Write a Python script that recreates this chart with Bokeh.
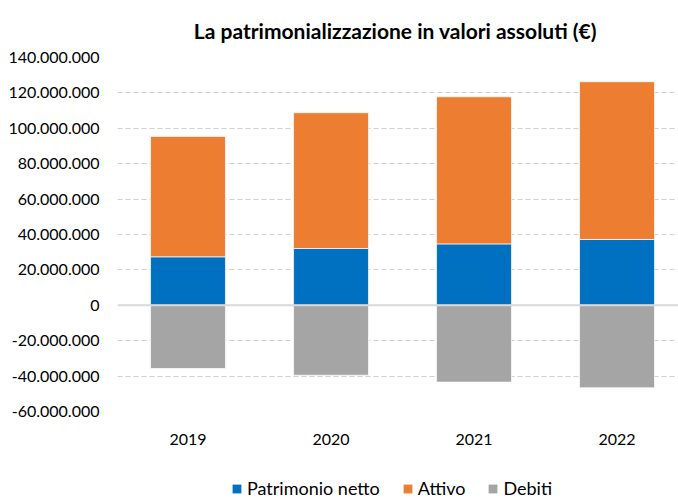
from bokeh.plotting import figure
from bokeh.layouts import column
from bokeh.models import Range1d, FixedTicker, Span, Legend, LegendItem, ColumnDataSource
from bokeh.embed import file_html
from bokeh.resources import INLINE

years = ["2019", "2020", "2021", "2022"]
patrimonio_netto = [27.4e6, 32.1e6, 34.7e6, 37.2e6]
attivo = [68.0e6, 76.7e6, 83.1e6, 89.1e6]
debiti = [-35.7e6, -39.5e6, -43.4e6, -46.6e6]
y_ticks = [-60e6, -40e6, -20e6, 0, 20e6, 40e6, 60e6, 80e6, 100e6, 120e6, 140e6]
y_tick_labels = ["-60.000.000", "-40.000.000", "-20.000.000", "0", "20.000.000", "40.000.000",
                 "60.000.000", "80.000.000", "100.000.000", "120.000.000", "140.000.000"]
series_names = ["Patrimonio netto", "Attivo", "Debiti"]
series_colors = ["#0070C0", "#ED7D31", "#A5A5A5"]

FONT = "Lato"
xs = list(range(len(years)))
src = ColumnDataSource(dict(
    x=xs,
    pn=patrimonio_netto,
    att_top=[a + b for a, b in zip(patrimonio_netto, attivo)],
    deb=debiti,
    zero=[0] * len(years),
))

p = figure(width=678, height=465, output_backend="svg", toolbar_location=None,
           x_range=Range1d(-0.493, 3.43), y_range=Range1d(-60e6, 140e6),
           min_border_left=117, min_border_right=0, min_border_top=56, min_border_bottom=54)

p.title.text = "La patrimonializzazione  in valori assoluti (€)"
p.title.text_font = FONT
p.title.text_font_size = "21px"
p.title.text_font_style = "bold"
p.title.align = "center"
p.title.text_color = "#000000"
p.title.standoff = 30

bw = 0.524
r1 = p.vbar(x="x", bottom="zero", top="pn", width=bw, source=src, fill_color=series_colors[0],
            line_color="white", line_width=0.7)
r2 = p.vbar(x="x", bottom="pn", top="att_top", width=bw, source=src, fill_color=series_colors[1],
            line_color="white", line_width=0.7)
r3 = p.vbar(x="x", bottom="deb", top="zero", width=bw, source=src, fill_color=series_colors[2],
            line_color="white", line_width=0.7)

p.add_layout(Span(location=0, dimension="width", line_color="#d9d9d9", line_width=2, level="overlay"))

p.xgrid.visible = False
p.ygrid.ticker = FixedTicker(ticks=[t for t in y_ticks if t != 0])
p.ygrid.grid_line_color = "#d0d0d0"
p.ygrid.grid_line_dash = "5 3"
p.ygrid.grid_line_width = 1

p.yaxis.ticker = FixedTicker(ticks=y_ticks)
p.yaxis.major_label_overrides = {t: l for t, l in zip(y_ticks, y_tick_labels)}
p.xaxis.ticker = FixedTicker(ticks=xs)
p.xaxis.major_label_overrides = {i: y for i, y in zip(xs, years)}
for ax in (p.xaxis, p.yaxis):
    ax.axis_line_color = None
    ax.major_tick_line_color = None
    ax.minor_tick_line_color = None
    ax.major_label_text_font = FONT
    ax.major_label_text_font_size = "16px"
    ax.major_label_text_color = "#000000"
p.yaxis.major_label_standoff = 12
p.xaxis.major_label_standoff = 16
p.outline_line_color = None

# legend strip
lg = figure(width=678, height=34, output_backend="svg", toolbar_location=None,
            x_range=Range1d(0, 1), y_range=Range1d(0, 1),
            min_border_left=117, min_border_right=0, min_border_top=0, min_border_bottom=0)
lg.axis.visible = False
lg.grid.visible = False
lg.outline_line_color = None
items = []
for name, col in zip(series_names, series_colors):
    rr = lg.vbar(x=[-5], top=[-5], bottom=[-6], width=0.1, fill_color=col, line_color=None)
    items.append(LegendItem(label=name, renderers=[rr]))
legend = Legend(items=items, orientation="horizontal", location=(114, 0))
legend.label_text_font = FONT
legend.label_text_font_size = "18px"
legend.label_text_color = "#000000"
legend.label_height = 18
legend.glyph_width = 11
legend.glyph_height = 11
legend.label_standoff = 5
legend.spacing = 22
legend.border_line_color = None
legend.background_fill_alpha = 0
legend.padding = 0
legend.margin = 0
lg.add_layout(legend)

open("out.html", "w").write(file_html(column(p, lg, spacing=0), INLINE))
